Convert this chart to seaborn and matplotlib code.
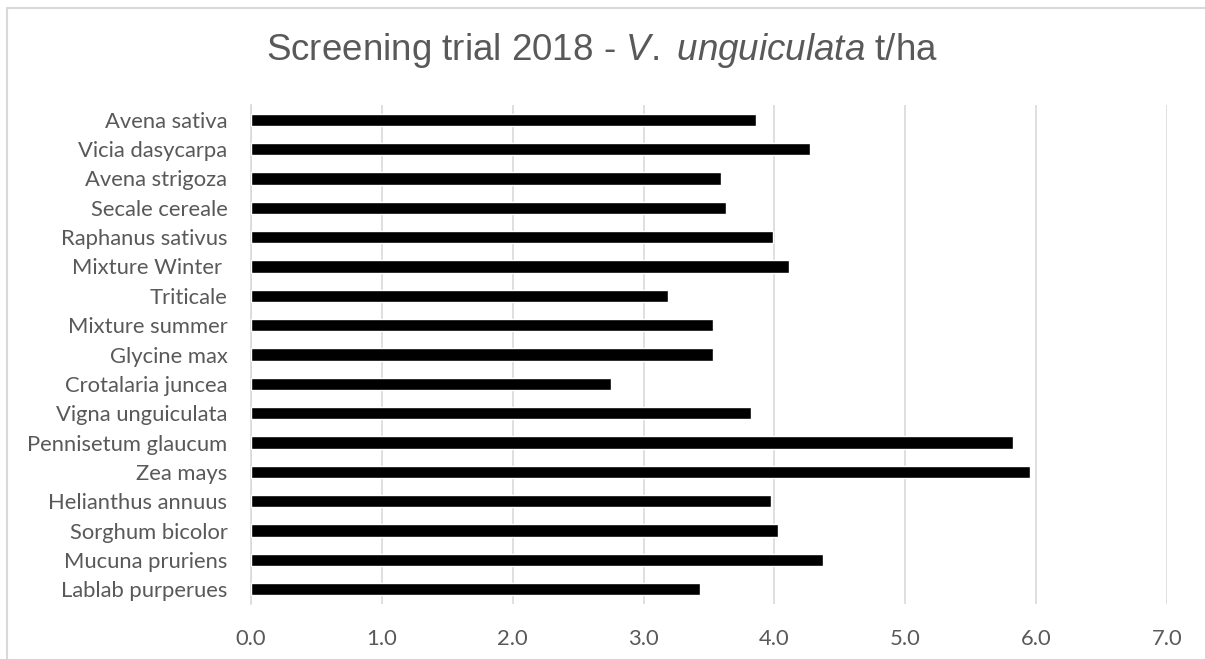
import matplotlib
matplotlib.use("Agg")
import matplotlib.pyplot as plt
import seaborn as sns
import pandas as pd
from matplotlib.lines import Line2D

# --- data ---
species = [
    "Avena sativa", "Vicia dasycarpa", "Avena strigoza", "Secale cereale",
    "Raphanus sativus", "Mixture Winter ", "Triticale", "Mixture summer",
    "Glycine max", "Crotalaria juncea", "Vigna unguiculata", "Pennisetum glaucum",
    "Zea mays", "Helianthus annuus", "Sorghum bicolor", "Mucuna pruriens",
    "Lablab purperues",
]
yield_tha = [
    3.86, 4.27, 3.59, 3.63, 3.99, 4.11, 3.19, 3.53, 3.53, 2.75,
    3.82, 5.82, 5.95, 3.97, 4.03, 4.37, 3.43,
]
x_ticks = [0, 1, 2, 3, 4, 5, 6, 7]

df = pd.DataFrame({"species": species, "yield": yield_tha})

sns.set_style("white")
plt.rcParams["font.family"] = ["Lato", "DejaVu Sans"]
plt.rcParams["mathtext.fontset"] = "custom"
plt.rcParams["mathtext.rm"] = "Liberation Sans"
plt.rcParams["mathtext.it"] = "Liberation Sans:italic"
TXT = "#595959"
GRID = "#d9d9d9"

fig = plt.figure(figsize=(12.05, 6.59), dpi=100)
ax = fig.add_axes([251 / 1205, 55 / 659, (1167 - 251) / 1205, (604 - 105) / 659])

sns.barplot(data=df, y="species", x="yield", color="black", width=0.42,
            saturation=1, ax=ax, zorder=3)

ax.set_xlim(0, 7)
ax.set_ylim(16.5, -0.5)
ax.set_xticks(x_ticks)
ax.set_xticklabels([f"{t:.1f}" for t in x_ticks])
ax.grid(axis="x", color=GRID, linewidth=1.2, zorder=0)
ax.set_xlabel("")
ax.set_ylabel("")
for s in ["top", "right", "bottom"]:
    ax.spines[s].set_visible(False)
ax.spines["left"].set_color(GRID)
ax.spines["left"].set_linewidth(1.2)
ax.tick_params(axis="both", length=0, labelsize=15.8, colors=TXT)
ax.tick_params(axis="x", pad=18)
ax.tick_params(axis="y", pad=17)

fig.text(0.5, 1 - 50 / 659,
         r"Screening trial 2018 - $\mathit{V.}$ $\mathit{unguiculata}$ t/ha",
         ha="center", va="center", fontsize=26.5, color=TXT,
         family="Liberation Sans")

# chart frame (top and left edges only)
fig.add_artist(Line2D([7 / 1205, 1], [1 - 8 / 659, 1 - 8 / 659],
                      transform=fig.transFigure, color=GRID, linewidth=1.5))
fig.add_artist(Line2D([7 / 1205, 7 / 1205], [0, 1 - 8 / 659],
                      transform=fig.transFigure, color=GRID, linewidth=1.5))

fig.savefig("out.png", dpi=100)
